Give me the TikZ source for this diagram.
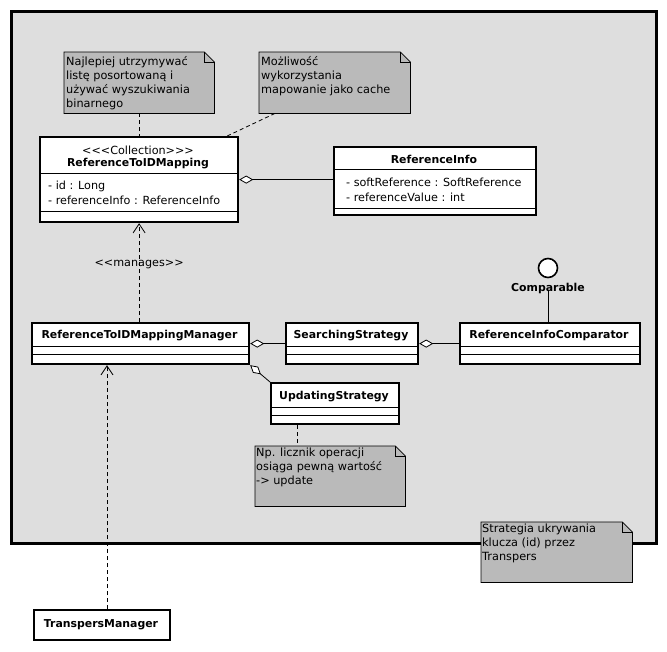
\documentclass[tikz,border=0pt]{standalone}
\usepackage{fontspec}
\setmainfont{DejaVu Sans}
\usetikzlibrary{arrows.meta,calc}
\definecolor{pkgfill}{RGB}{222,222,222}
\definecolor{notefill}{RGB}{186,186,186}
\newcommand{\notedraw}[1]{%
  \draw[noteline] (#1.north west) -- ($(#1.north east)+(-10,0)$) -- ($(#1.north east)+(0,10)$)
     -- (#1.south east) -- (#1.south west) -- cycle;
  \draw[solidline] ($(#1.north east)+(-10,0)$) -- ++(0,10) -- ++(10,0);}
\begin{document}
\begin{tikzpicture}[x=1pt,y=-1pt,
  classbox/.style={draw=black, line width=2.2pt, fill=white, inner sep=0pt, anchor=north west},
  sepline/.style={line width=1pt},
  cname/.style={font=\fontsize{10.9}{13}\selectfont\bfseries, inner sep=0pt, anchor=base},
  attr/.style={font=\fontsize{11.2}{14}\selectfont, inner sep=0pt, anchor=base west},
  stereo/.style={font=\fontsize{11.2}{14}\selectfont, inner sep=0pt, anchor=base},
  notebox/.style={inner sep=0pt, anchor=north west},
  noteline/.style={draw=black, line width=0.8pt, fill=notefill},
  notetext/.style={font=\fontsize{11.3}{14}\selectfont, align=left, inner sep=0pt, anchor=north west},
  dashedline/.style={line width=0.8pt, dash pattern=on 4pt off 3pt},
  solidline/.style={line width=0.8pt},
  aggstart/.style={solidline, {Diamond[open, fill=white, length=14pt, width=8pt, line width=0.8pt]}-},
  dep/.style={dashedline, -{Straight Barb[length=9pt, width=12pt, line width=0.8pt]}},
]
\useasboundingbox (0,0) rectangle (667,651);
\fill[white] (0,0) rectangle (667,651);

% package frame
\node[draw=black, line width=2.6pt, fill=pkgfill, inner sep=0pt, anchor=north west,
      minimum width=645pt, minimum height=532pt] (pkg) at (10,10) {};

% notes
\node[notebox, minimum width=150pt, minimum height=61pt] (note1) at (64,52) {};
\notedraw{note1}
\node[notetext] (note1t) at (66,55.5) {\rule{0pt}{10pt}Najlepiej utrzymywać\\listę posortowaną i\\używać wyszukiwania\\binarnego};

\node[notebox, minimum width=151pt, minimum height=61pt] (note2) at (259,52) {};
\notedraw{note2}
\node[notetext] (note2t) at (261,55.5) {\rule{0pt}{10pt}Możliwość\\wykorzystania\\mapowanie jako cache};

\node[notebox, minimum width=150pt, minimum height=60pt] (note3) at (255,446) {};
\notedraw{note3}
\node[notetext] (note3t) at (256,446) {\rule{0pt}{10.5pt}Np. licznik operacji\\osiąga pewną wartość\\-> update};

% classes
\node[classbox, minimum width=198pt, minimum height=85pt] (rtm) at (39,136) {};
\draw[sepline] (rtm.west |- 0,173) -- (rtm.east |- 0,173);
\draw[sepline] (rtm.west |- 0,211) -- (rtm.east |- 0,211);
\node[stereo] (rtmst) at (138,154) {<\kern0pt<\kern0pt<Collection>\kern0pt>\kern0pt>};
\node[cname] (rtmn) at (138,166) {ReferenceToIDMapping};
\node[attr] (rtma1) at (48,189) {- id : Long};
\node[attr] (rtma2) at (48,204) {- referenceInfo : ReferenceInfo};

\node[classbox, minimum width=202pt, minimum height=68pt] (ri) at (333,146) {};
\draw[sepline] (ri.west |- 0,169) -- (ri.east |- 0,169);
\draw[sepline] (ri.west |- 0,208) -- (ri.east |- 0,208);
\node[cname] (rin) at (434,163) {ReferenceInfo};
\node[attr] (ria1) at (346,186) {- softReference : SoftReference};
\node[attr] (ria2) at (346,201) {- referenceValue : int};

\node[classbox, minimum width=217pt, minimum height=41pt] (mgr) at (31,322) {};
\draw[sepline] (mgr.west |- 0,346) -- (mgr.east |- 0,346);
\draw[sepline] (mgr.west |- 0,354) -- (mgr.east |- 0,354);
\node[cname] (mgrn) at (139.5,338) {ReferenceToIDMappingManager};

\node[classbox, minimum width=132pt, minimum height=41pt] (ss) at (285,322) {};
\draw[sepline] (ss.west |- 0,346) -- (ss.east |- 0,346);
\draw[sepline] (ss.west |- 0,354) -- (ss.east |- 0,354);
\node[cname] (ssn) at (351,338) {SearchingStrategy};

\node[classbox, minimum width=180pt, minimum height=41pt] (ric) at (459,322) {};
\draw[sepline] (ric.west |- 0,346) -- (ric.east |- 0,346);
\draw[sepline] (ric.west |- 0,354) -- (ric.east |- 0,354);
\node[cname] (ricn) at (549,338) {ReferenceInfoComparator};

\node[classbox, minimum width=128pt, minimum height=41pt] (us) at (270,382) {};
\draw[sepline] (us.west |- 0,407) -- (us.east |- 0,407);
\draw[sepline] (us.west |- 0,415) -- (us.east |- 0,415);
\node[cname] (usn) at (334,399) {UpdatingStrategy};

\node[classbox, minimum width=136pt, minimum height=30pt] (tm) at (33,609) {};
\node[cname] (tmn) at (101,627) {TranspersManager};

% interface
\node[circle, draw=black, line width=1.6pt, fill=white, minimum size=19pt, inner sep=0pt] (cmp) at (548,268) {};
\node[cname] (cmpl) at (548,291) {Comparable};

% note 4 (over the frame)
\node[notebox, minimum width=151pt, minimum height=60pt] (note4) at (481,522) {};
\notedraw{note4}
\node[notetext] (note4t) at (482,522) {\rule{0pt}{10.5pt}Strategia ukrywania\\klucza (id) przez\\Transpers};

% connectors
\draw[dashedline] (note1.south) -- (note1.south |- rtm.north);
\draw[dashedline] ($(note2.south west)+(16,0)$) -- ($(rtm.north east)+(-12,0)$);
\draw[aggstart] (rtm.east) -- (rtm.east -| ri.west);
\draw[dep] (mgr.north -| rtm.south) -- node[stereo, pos=0.56] (mlbl) {<\kern0pt<manages>\kern0pt>} (rtm.south);
\coordinate (tp) at ($(tm.north west)+(74,0)$);
\draw[dep] (tp) -- (tp |- mgr.south);
\draw[aggstart] (mgr.east) -- (ss.west);
\draw[aggstart] (ss.east) -- (ric.west);
\draw[aggstart] (mgr.south east) -- (us.north west);
\draw[solidline] (cmpl.base) -- (cmpl.base |- ric.north);
\coordinate (n3c) at ($(note3.north west)+(42,0)$);
\draw[dashedline] (n3c |- us.south) -- (n3c);
\end{tikzpicture}
\end{document}
